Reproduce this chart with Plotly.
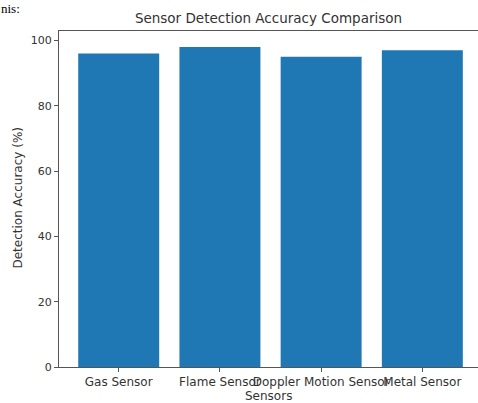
import plotly.graph_objects as go

sensors = ["Gas Sensor", "Flame Sensor", "Doppler Motion Sensor", "Metal Sensor"]
accuracy = [96, 98, 95, 97]
y_ticks = [0, 20, 40, 60, 80, 100]

FONT = "DejaVu Sans"
TXT = "#333333"
LINE = "#555555"

fig = go.Figure()
fig.add_trace(go.Bar(
    x=sensors, y=accuracy, width=0.8,
    marker=dict(color="#1f77b4", line=dict(width=0)),
))

fig.update_layout(
    width=478, height=403,
    margin=dict(l=59, r=0, t=31, b=36, autoexpand=False),
    paper_bgcolor="white", plot_bgcolor="white",
    showlegend=False,
    font=dict(family=FONT, size=12, color=TXT),
    title=dict(text="Sensor Detection Accuracy Comparison",
               x=0.5, xref="paper", xanchor="center",
               y=1 - 18.5 / 403, yref="container", yanchor="middle",
               font=dict(family=FONT, size=13.5, color=TXT)),
)
fig.update_xaxes(
    type="category", range=[-0.59, 3.55], tickangle=0,
    showline=True, linecolor=LINE, linewidth=1, mirror=True,
    ticks="outside", ticklen=4, tickcolor=LINE, tickwidth=1,
    showgrid=False, zeroline=False, automargin=False,
    tickfont=dict(family=FONT, size=12, color=TXT),
)
fig.update_yaxes(
    range=[0, 102.9], tickvals=y_ticks,
    showline=True, linecolor=LINE, linewidth=1,
    ticks="outside", ticklen=4, tickcolor=LINE, tickwidth=1,
    showgrid=False, zeroline=False, automargin=False,
    tickfont=dict(family=FONT, size=11, color=TXT),
)
fig.add_annotation(text="Sensors", xref="paper", yref="paper",
                   x=0.5, y=-(396 - 367) / 336, xanchor="center", yanchor="middle",
                   showarrow=False, font=dict(family=FONT, size=12, color=TXT))
fig.add_annotation(text="Detection Accuracy (%)", xref="paper", yref="paper",
                   x=-(59 - 17.5) / 419, y=(367 - 198) / 336, xanchor="center", yanchor="middle",
                   textangle=-90, showarrow=False,
                   font=dict(family=FONT, size=12, color=TXT))
fig.add_annotation(text="nis:", xref="paper", yref="paper",
                   x=-59 / 419, y=1 + 31 / 336, xanchor="left", yanchor="top",
                   showarrow=False, borderpad=0,
                   font=dict(family="Liberation Serif", size=13, color="black"))

fig.write_html("out.html",
               config={"displayModeBar": False},
               post_script="document.body.style.margin='0';document.body.style.padding='0';")
